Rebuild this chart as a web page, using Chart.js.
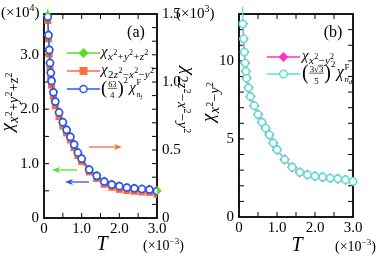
<!DOCTYPE html>
<html><head><meta charset="utf-8">
<script src="https://cdn.jsdelivr.net/npm/chart.js@4/dist/chart.umd.min.js"></script>
<style>
html,body{margin:0;padding:0;background:#fff;width:382px;height:257px;overflow:hidden}
#wa{position:absolute;left:0;top:0;width:230px;height:257px}
#wb{position:absolute;left:195px;top:0;width:187px;height:257px}
</style></head><body>
<div id="wa"><canvas id="ca"></canvas></div>
<div id="wb"><canvas id="cb"></canvas></div>
<script>
// ---- data (T in units of 1e-3) ----
const T = [0.1,0.12,0.14,0.16,0.18,0.2,0.25,0.3,0.4,0.5,0.6,0.7,0.8,0.9,1.0,1.2,1.4,1.6,1.8,2.0,2.2,2.4,2.6,2.8,3.0];
// panel (a), left axis (x1e4)
const chiTot = [3.72,3.38,3.10,2.86,2.68,2.53,2.32,2.15,1.95,1.77,1.63,1.50,1.36,1.21,1.10,0.90,0.785,0.68,0.625,0.59,0.565,0.55,0.54,0.53,0.50];
const chiTotLowT = [0.09];
const chiTotLow = [4.3];
const chiNf = [3.70,3.36,3.09,2.85,2.67,2.52,2.31,2.14,1.94,1.76,1.62,1.49,1.35,1.20,1.09,0.89,0.775,0.67,0.615,0.585,0.56,0.545,0.533,0.522,0.495];
// panel (a), right axis (x1e3)
const chiEg = [1.453,1.317,1.205,1.110,1.038,0.977,0.896,0.825,0.746,0.677,0.626,0.575,0.517,0.459,0.415,0.339,0.291,0.248,0.226,0.211,0.202,0.197,0.192,0.188,0.175];
// panel (b)
const chiX2y2 = [12.37,11.41,10.56,9.86,9.33,8.89,8.28,7.72,7.13,6.56,6.07,5.69,5.26,4.74,4.31,3.68,3.19,2.87,2.71,2.62,2.56,2.49,2.45,2.39,2.28];
const chiNd = [12.37,11.41,10.56,9.86,9.33,8.89,8.28,7.72,7.13,6.56,6.07,5.69,5.26,4.74,4.31,3.68,3.19,2.87,2.71,2.62,2.56,2.49,2.45,2.39,2.28];
const chiNdLowT = [0.085];
const chiNdLow = [14.0];
// tick labels
const xLabVals = [0,1,2,3], xLabText = ['0','1.0','2.0','3.0'];
const yaLabVals = [0,1,2,3], yaLabText = ['0','1.0','2.0','3.0'];
const yrLabVals = [0,0.5,1,1.5], yrLabText = ['0','0.5','1.0','1.5'];
const ybLabVals = [0,5,10], ybLabText = ['0','5','10'];

const GREEN='#55e020', ORANGE='#ff6a3a', BLUE='#3050f0', MAGENTA='#ff30c8', CYAN='#5fe0cf';
const SERIF='"Liberation Serif","DejaVu Serif",serif';
Chart.defaults.font.family = SERIF;
Chart.defaults.color = '#000';

function lab(vals, txt){ return v => { const i = vals.findIndex(u => Math.abs(u - v) < 1e-6); return i >= 0 ? txt[i] : ''; }; }
function pts(xs, ys){ return xs.map((x,i)=>({x:x, y:ys[i]})); }

function fnt(p){ return (p.i?'italic ':'') + p.s + 'px ' + SERIF; }
function drawParts(ctx, parts, x, y, rot, align){
  ctx.save(); ctx.translate(x,y); if(rot) ctx.rotate(rot);
  ctx.textBaseline='alphabetic'; ctx.textAlign='left'; ctx.fillStyle='#000';
  let w=0;
  for(const p of parts){ ctx.font=fnt(p); p._w=ctx.measureText(p.t).width; if(!p.na) w+=p._w+(p.dx||0); }
  let cx = align==='center'? -w/2 : (align==='right'? -w : 0);
  for(const p of parts){ ctx.font=fnt(p); cx+=(p.dx||0); ctx.fillText(p.t,cx,p.dy||0); if(!p.na) cx+=p._w; }
  ctx.restore(); return w;
}
function chiParts(S, sub, rs, rp){
  rs = rs || 0.72; rp = rp || 0.52;
  const parts=[{t:'χ',s:S,i:1}];
  const ss=Math.round(S*rs), sp=Math.round(S*rp);
  sub.forEach((tk,k)=>{
    if(tk[0]==='^') parts.push({t:tk.slice(1),s:sp,dy:-S*0.06,dx:0.3});
    else parts.push({t:tk,s:ss,i:/[a-z]/.test(tk)?1:0,dy:S*0.28,dx:k===0?0.5:0.2});
  });
  return parts;
}
function line(ctx,x1,y1,x2,y2){ ctx.beginPath(); ctx.moveTo(x1,y1); ctx.lineTo(x2,y2); ctx.stroke(); }
function marker(ctx,x,y,style,r,stroke,fill,bw){
  ctx.beginPath();
  if(style==='circle') ctx.arc(x,y,r,0,Math.PI*2);
  else if(style==='rect'){ const s=r*Math.SQRT1_2; ctx.rect(x-s,y-s,2*s,2*s); }
  else { ctx.moveTo(x,y-r); ctx.lineTo(x+r,y); ctx.lineTo(x,y+r); ctx.lineTo(x-r,y); ctx.closePath(); }
  ctx.fillStyle=fill; ctx.fill();
  if(bw){ ctx.lineWidth=bw; ctx.strokeStyle=stroke; ctx.stroke(); }
}
function legRow(ctx,x1,x2,y,color,style,r,fill,bw){
  ctx.strokeStyle=color; ctx.lineWidth=1.3; line(ctx,x1,y,x2,y);
  marker(ctx,(x1+x2)/2,y,style,r,color,fill,bw);
}
function arrow(ctx,xt,xh,y,color){
  const d=Math.sign(xh-xt), hl=8, hw=3;
  ctx.strokeStyle=color; ctx.fillStyle=color; ctx.lineWidth=1.3;
  line(ctx,xt,y,xh-d*hl*0.8,y);
  ctx.beginPath(); ctx.moveTo(xh,y); ctx.lineTo(xh-d*hl,y-hw); ctx.lineTo(xh-d*hl*0.75,y); ctx.lineTo(xh-d*hl,y+hw); ctx.closePath(); ctx.fill();
}
// fraction-prefixed legend text: (num/den)^2 chi^F_{n_s}
function fracChi(ctx,x,y,num,den,sub,S,sqrtOver){
  ctx.save(); ctx.fillStyle='#000'; ctx.strokeStyle='#000'; ctx.textBaseline='alphabetic';
  let cx=x;
  ctx.font=(S*1.25)+'px '+SERIF; ctx.fillText('(',cx,y+2); cx+=ctx.measureText('(').width+0.5;
  const fs=S*0.55; ctx.font=fs+'px '+SERIF;
  const wn=ctx.measureText(num).width, wd=ctx.measureText(den).width, fw=Math.max(wn,wd)+1;
  ctx.fillText(num,cx+(fw-wn)/2,y-S*0.32);
  ctx.fillText(den,cx+(fw-wd)/2,y+S*0.42);
  ctx.lineWidth=0.6; line(ctx,cx,y-S*0.24,cx+fw,y-S*0.24);
  if(sqrtOver){ const w3=ctx.measureText('3').width; const xs=cx+(fw-wn)/2+wn-w3; line(ctx,xs,y-S*0.32-fs*0.75,xs+w3,y-S*0.32-fs*0.75); }
  cx+=fw+0.5;
  ctx.font=(S*1.25)+'px '+SERIF; ctx.fillText(')',cx,y+2); cx+=ctx.measureText(')').width;
  ctx.font=fs+'px '+SERIF; ctx.fillText('2',cx,y-S*0.6); cx+=ctx.measureText('2').width+1.5;
  ctx.font='italic '+S+'px '+SERIF; ctx.fillText('χ',cx,y); cx+=ctx.measureText('χ').width+0.5;
  ctx.font=fs+'px '+SERIF; ctx.fillText('F',cx,y-S*0.45);
  ctx.font='italic '+fs+'px '+SERIF; ctx.fillText('n',cx,y+S*0.3); const wn2=ctx.measureText('n').width;
  ctx.font='italic '+(S*0.42)+'px '+SERIF; ctx.fillText(sub,cx+wn2,y+S*0.45);
  ctx.restore();
}
function frameTicks(chart, ls, rs){
  const ctx=chart.ctx, a=chart.chartArea, L=5;
  ctx.save(); ctx.strokeStyle='#000'; ctx.lineWidth=1;
  const xs=chart.scales.x;
  for(const t of xs.ticks){ const p=xs.getPixelForValue(t.value); if(p<=a.left+1||p>=a.right-1) continue; line(ctx,p,a.bottom,p,a.bottom-L); line(ctx,p,a.top,p,a.top+L); }
  for(const t of ls.ticks){ const p=ls.getPixelForValue(t.value); if(p<=a.top+1||p>=a.bottom-1) continue; line(ctx,a.left,p,a.left+L,p); }
  for(const t of rs.ticks){ const p=rs.getPixelForValue(t.value); if(p<=a.top+1||p>=a.bottom-1) continue; line(ctx,a.right,p,a.right-L,p); }
  ctx.lineWidth=1.8; ctx.strokeRect(a.left,a.top,a.right-a.left,a.bottom-a.top);
  ctx.restore();
}
const tickFont={family:SERIF,size:15};
function baseX(h){ return {type:'linear',min:0,max:3,position:'bottom',
  ticks:{stepSize:0.5,autoSkip:false,maxRotation:0,padding:2,color:'#000',font:tickFont,callback:lab(xLabVals,xLabText)},
  grid:{display:false,drawTicks:false},border:{display:false},afterFit:s=>{s.height=h;}}; }

const plugA={id:'decoA',
  beforeDatasetsDraw(chart){ frameTicks(chart, chart.scales.y, chart.scales.y2); },
  afterDraw(chart){
    const ctx=chart.ctx;
    // axis titles
    drawParts(ctx, chiParts(19,['x','^2','+','y','^2','+','z','^2']), 13, 102, -Math.PI/2, 'center');
    drawParts(ctx, chiParts(19,['2','z','^2','−','x','^2','−','y','^2']), 183, 100, Math.PI/2, 'center');
    drawParts(ctx, [{t:'T',s:20,i:1}], 102, 250, 0, 'center');
    drawParts(ctx, [{t:'(×10',s:14},{t:'−3',s:9,dy:-6},{t:')',s:14}], 143, 250, 0, 'left');
    drawParts(ctx, [{t:'(×10',s:15},{t:'4',s:10,dy:-6},{t:')',s:15}], 1, 17, 0, 'left');
    drawParts(ctx, [{t:'(×10',s:15},{t:'3',s:10,dy:-6},{t:')',s:15}], 176, 18, 0, 'left');
    drawParts(ctx, [{t:'(a)',s:16}], 136, 37, 0, 'center');
    // legend
    legRow(ctx,67,100,53,GREEN,'rectRot',5,GREEN,0);
    legRow(ctx,67,100,71,ORANGE,'rect',5.6,ORANGE,0);
    legRow(ctx,67,100,89,BLUE,'circle',3.6,'#fff',1.5);
    drawParts(ctx, chiParts(15,['x','^2','+','y','^2','+','z','^2'],0.72,0.5), 101, 56, 0, 'left');
    drawParts(ctx, chiParts(15,['2','z','^2','−','x','^2','−','y','^2'],0.72,0.5), 101, 74, 0, 'left');
    fracChi(ctx,101,92,'63','4','f',15,false);
    // arrows
    arrow(ctx,89,122,147,ORANGE);
    arrow(ctx,77,52,170,GREEN);
    arrow(ctx,89,65,182,BLUE);
  }};

new Chart(document.getElementById('ca'),{
  type:'line',
  data:{datasets:[
    {label:'nf',data:pts(T,chiNf),yAxisID:'y',borderColor:BLUE,borderWidth:1.2,pointStyle:'circle',pointRadius:3.5,pointBorderWidth:1.7,pointBackgroundColor:'#fff',pointBorderColor:BLUE},
    {label:'tot',data:pts(chiTotLowT.concat(T),chiTotLow.concat(chiTot)),yAxisID:'y',borderColor:GREEN,borderWidth:1.2,pointStyle:'rectRot',pointRadius:4.8,pointBorderWidth:0,pointBackgroundColor:GREEN,clip:5},
    {label:'eg',data:pts(T,chiEg),yAxisID:'y2',borderColor:ORANGE,borderWidth:1.2,pointStyle:'rect',pointRadius:5,pointBorderWidth:0,pointBackgroundColor:ORANGE}
  ]},
  options:{responsive:true,maintainAspectRatio:false,animation:false,devicePixelRatio:1,
    layout:{padding:{top:12,left:0,right:0,bottom:0}},
    plugins:{legend:{display:false},tooltip:{enabled:false}},
    elements:{line:{tension:0}},
    scales:{
      x:baseX(39),
      y:{type:'linear',min:0,max:3.75,position:'left',ticks:{stepSize:0.5,autoSkip:false,padding:5,color:'#000',font:tickFont,callback:lab(yaLabVals,yaLabText)},grid:{display:false,drawTicks:false},border:{display:false},afterFit:s=>{s.width=44;}},
      y2:{type:'linear',min:0,max:1.5,position:'right',ticks:{stepSize:0.1,autoSkip:false,padding:5,color:'#000',font:tickFont,callback:lab(yrLabVals,yrLabText)},grid:{display:false,drawTicks:false},border:{display:false},afterFit:s=>{s.width=73;}}
    }},
  plugins:[plugA]
});

const plugB={id:'decoB',
  beforeDatasetsDraw(chart){ frameTicks(chart, chart.scales.y, chart.scales.y); },
  afterDraw(chart){
    const ctx=chart.ctx; ctx.save(); ctx.translate(-195,0);
    drawParts(ctx, chiParts(19,['x','^2','−','y','^2']), 214, 102, -Math.PI/2, 'center');
    drawParts(ctx, [{t:'T',s:20,i:1}], 297, 251, 0, 'center');
    drawParts(ctx, [{t:'(×10',s:14},{t:'−3',s:9,dy:-6},{t:')',s:14}], 335, 251, 0, 'left');
    drawParts(ctx, [{t:'(b)',s:16}], 333, 37, 0, 'center');
    legRow(ctx,267,300,57,MAGENTA,'rectRot',5,MAGENTA,0);
    legRow(ctx,267,300,74,CYAN,'circle',3.8,'#fff',1.5);
    drawParts(ctx, chiParts(15,['x','^2','−','y','^2'],0.72,0.5), 302, 60, 0, 'left');
    fracChi(ctx,302,77,'3√3','5','d',16,true);
    ctx.restore();
  }};

new Chart(document.getElementById('cb'),{
  type:'line',
  data:{datasets:[
    {label:'nd',data:pts(chiNdLowT.concat(T),chiNdLow.concat(chiNd)),borderColor:CYAN,borderWidth:1.2,pointStyle:'circle',pointRadius:3.6,pointBorderWidth:1.6,pointBackgroundColor:'#fff',pointBorderColor:CYAN,clip:7},
    {label:'x2y2',data:pts(T,chiX2y2),borderColor:MAGENTA,borderWidth:1.2,pointStyle:'rectRot',pointRadius:5.2,pointBorderWidth:0,pointBackgroundColor:MAGENTA}
  ]},
  options:{responsive:true,maintainAspectRatio:false,animation:false,devicePixelRatio:1,
    layout:{padding:{top:12,left:0,right:29,bottom:0}},
    plugins:{legend:{display:false},tooltip:{enabled:false}},
    scales:{
      x:baseX(40),
      y:{type:'linear',min:0,max:13,position:'left',ticks:{stepSize:1,autoSkip:false,padding:5,color:'#000',font:tickFont,callback:lab(ybLabVals,ybLabText)},grid:{display:false,drawTicks:false},border:{display:false},afterFit:s=>{s.width=44;}}
    }},
  plugins:[plugB]
});
</script>
</body></html>
